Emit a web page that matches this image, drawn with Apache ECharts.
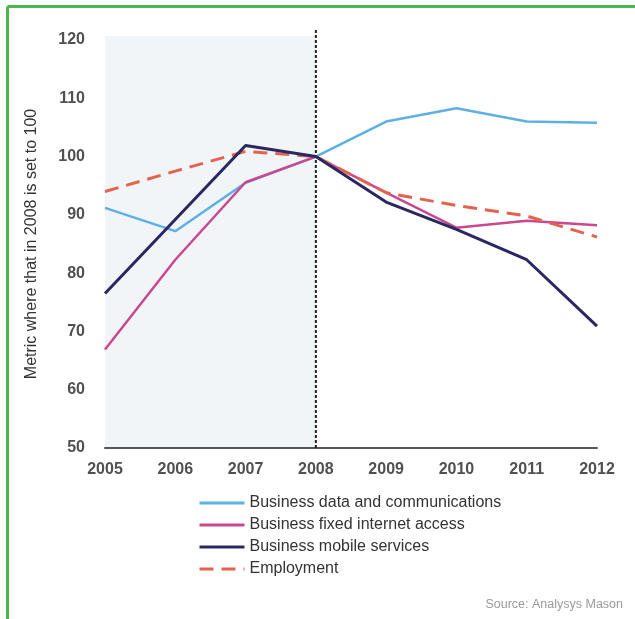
<!DOCTYPE html>
<html>
<head>
<meta charset="utf-8">
<script src="https://cdn.jsdelivr.net/npm/echarts@6/dist/echarts.min.js"></script>
<style>
  html, body { margin: 0; padding: 0; background: #fff; }
  #chart { width: 635px; height: 619px; }
</style>
</head>
<body>
<div id="chart"></div>
<script>
// Index values, 2008 = 100
const years = ['2005', '2006', '2007', '2008', '2009', '2010', '2011', '2012'];
const dataComms = [91.2, 87.2, 95.5, 100, 106.0, 108.3, 106.0, 105.8];
const fixedInternet = [66.9, 82.3, 95.6, 100, 93.8, 87.8, 89.0, 88.2];
const mobileServices = [76.5, 89.2, 101.9, 100, 92.2, 87.5, 82.3, 70.9];
const employment = [94.0, 97.5, 100.9, 100, 93.8, 91.6, 89.8, 86.2];
const yTicks = [50, 60, 70, 80, 90, 100, 110, 120];
const recessionStart = '2005';
const recessionEnd = '2008';

const chart = echarts.init(document.getElementById('chart'), null, { renderer: 'canvas' });

const labelFont = { fontFamily: 'Liberation Sans, Arial, sans-serif', fontSize: 16, fontWeight: 'bold', color: '#505050' };

const option = {
  backgroundColor: '#ffffff',
  animation: false,
  grid: { left: 105, right: 38, top: 40, bottom: 171, containLabel: false },
  xAxis: {
    type: 'category',
    data: years,
    boundaryGap: false,
    axisLine: { show: true, lineStyle: { color: '#555', width: 2 } },
    axisTick: { show: false },
    axisLabel: Object.assign({ margin: 14 }, labelFont),
    splitLine: { show: false }
  },
  yAxis: {
    type: 'value',
    min: yTicks[0],
    max: yTicks[yTicks.length - 1],
    interval: 10,
    axisLine: { show: false },
    axisTick: { show: false },
    splitLine: { show: false },
    axisLabel: Object.assign({ margin: 20 }, labelFont)
  },
  legend: {
    orient: 'vertical',
    left: 193,
    top: 490,
    itemWidth: 45,
    itemHeight: 14,
    itemGap: 6,
    itemStyle: { opacity: 0 },
    lineStyle: { width: 3 },
    data: ['Business data and communications', 'Business fixed internet access', 'Business mobile services', 'Employment'],
    textStyle: { fontFamily: 'Liberation Sans, Arial, sans-serif', fontSize: 16, color: '#333' }
  },
  series: [
    {
      name: 'Business data and communications',
      type: 'line', data: dataComms, symbol: 'none', z: 2,
      lineStyle: { color: '#5eb0e4', width: 2.5 },
      itemStyle: { color: '#5eb0e4' }
    },
    {
      name: 'Business fixed internet access',
      type: 'line', data: fixedInternet, symbol: 'none', z: 3,
      lineStyle: { color: '#c9488f', width: 2.5 },
      itemStyle: { color: '#c9488f' }
    },
    {
      name: 'Employment',
      type: 'line', data: employment, symbol: 'none', z: 4,
      lineStyle: { color: '#e4634f', width: 3, type: [14, 8] },
      itemStyle: { color: '#e4634f' }
    },
    {
      name: 'Business mobile services',
      type: 'line', data: mobileServices, symbol: 'none', z: 5,
      lineStyle: { color: '#2a2863', width: 3 },
      itemStyle: { color: '#2a2863' }
    }
  ]
};

chart.setOption(option);

// Shaded period and dashed divider, placed through the axis scales
const x0 = chart.convertToPixel({ xAxisIndex: 0 }, recessionStart);
const x1 = chart.convertToPixel({ xAxisIndex: 0 }, recessionEnd);
const yBase = chart.convertToPixel({ yAxisIndex: 0 }, yTicks[0]);
const yTop = chart.convertToPixel({ yAxisIndex: 0 }, yTicks[yTicks.length - 1]);

chart.setOption({
  graphic: [
    // frame
    { type: 'line', silent: true, z: 10, shape: { x1: 7.5, y1: 6.5, x2: 635, y2: 6.5 }, style: { stroke: '#4cb84a', lineWidth: 3 } },
    { type: 'line', silent: true, z: 10, shape: { x1: 7.5, y1: 6.5, x2: 7.5, y2: 619 }, style: { stroke: '#4cb84a', lineWidth: 3 } },
    // shaded period
    { type: 'rect', silent: true, z: -1, shape: { x: x0, y: yTop - 4, width: x1 - x0, height: yBase - yTop + 4 }, style: { fill: '#f2f5f7' } },
    // dashed divider
    { type: 'line', silent: true, z: 1, shape: { x1: x1, y1: yTop - 10, x2: x1, y2: yBase }, style: { stroke: '#222', lineWidth: 2, lineDash: [3, 2] } },
    // axis title
    {
      type: 'text', silent: true, x: 32, y: (yTop + yBase) / 2, rotation: Math.PI / 2,
      style: { text: 'Metric where that in 2008 is set to 100', fill: '#333', font: '16px "Liberation Sans", Arial, sans-serif', align: 'center', verticalAlign: 'middle' }
    },
    // source note
    {
      type: 'text', silent: true, x: 623, y: 605,
      style: { text: 'Source: Analysys Mason', fill: '#9a9a9a', font: '12.5px "Liberation Sans", Arial, sans-serif', align: 'right', verticalAlign: 'middle' }
    }
  ]
});
</script>
</body>
</html>
